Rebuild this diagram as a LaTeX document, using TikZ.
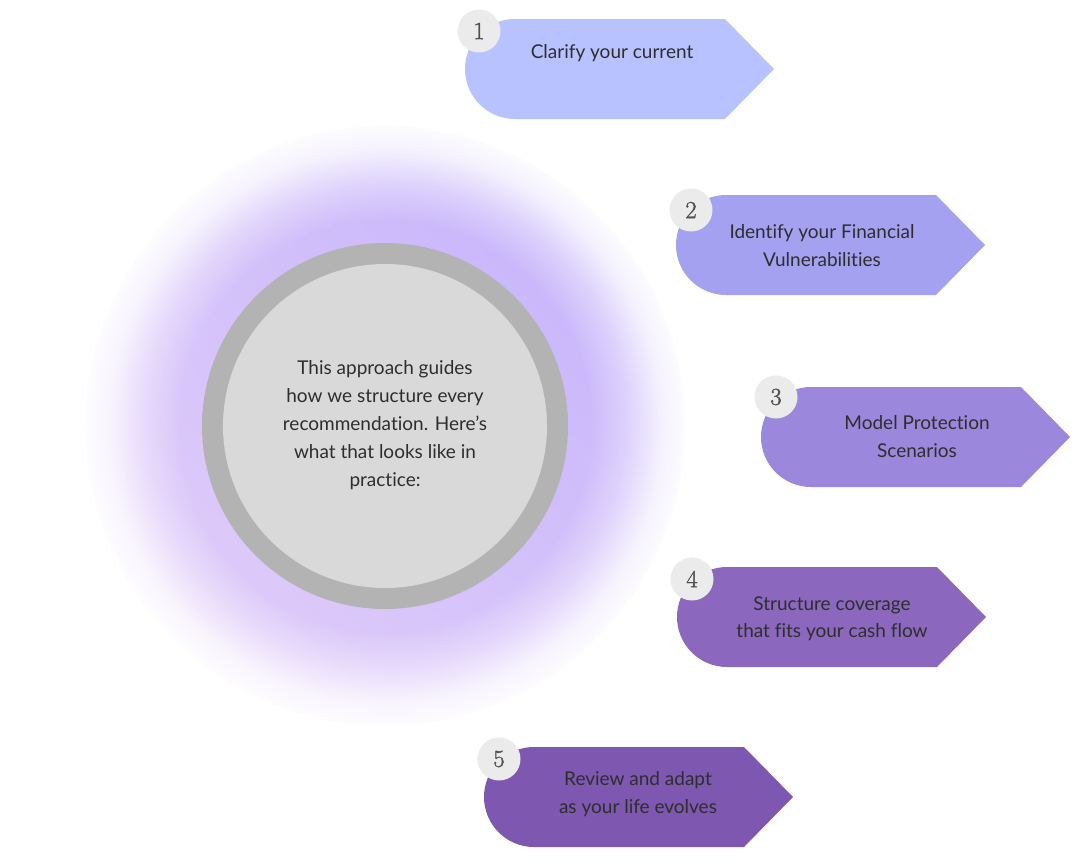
\documentclass[tikz,border=0pt]{standalone}
\usepackage{fontspec}
\setmainfont{Lato}[Ligatures=NoCommon]
\newfontfamily\numfont{Latin Modern Roman}[BoldFont={Latin Modern Roman}, BoldFeatures={FakeBold=1.4}]
\usetikzlibrary{fadings,shadings}
\definecolor{cA}{HTML}{B8C2FF}
\definecolor{cB}{HTML}{A3A1F0}
\definecolor{cC}{HTML}{9B87DB}
\definecolor{cD}{HTML}{8B68BE}
\definecolor{cE}{HTML}{7D57B0}
\definecolor{ringc}{HTML}{B3B3B3}
\definecolor{innerc}{HTML}{D9D9D9}
\definecolor{badgec}{HTML}{EBEBEB}
\definecolor{numc}{HTML}{505050}
\definecolor{txtc}{HTML}{2E2E2E}
\definecolor{glowA}{HTML}{BFAEFC}
\definecolor{glowB}{HTML}{E6D0F8}
\definecolor{glowC}{HTML}{D4C2FA}
\pgfdeclareradialshading{glowfadeshade}{\pgfpointorigin}{%
  color(0bp)=(pgftransparent!0); color(17bp)=(pgftransparent!0); color(20bp)=(pgftransparent!35);
  color(23bp)=(pgftransparent!82); color(25.5bp)=(pgftransparent!100); color(50bp)=(pgftransparent!100)}
\pgfdeclarefading{glowfade}{\pgfuseshading{glowfadeshade}}
\newcommand\stepblock[3]{%
  \fill[#3] ({#1+50},{#2}) -- ({#1+260},{#2}) -- ({#1+309},{#2+50})
    -- ({#1+260},{#2+100}) -- ({#1+50},{#2+100})
    arc[start angle=90, end angle=270, radius=50] -- cycle;}
\tikzset{
  steptext/.style={align=center, text=txtc, font=\fontsize{19}{27.5}\selectfont, inner sep=0pt},
  badge/.style={circle, fill=badgec, minimum size=43pt, inner sep=0pt, text=numc, font=\numfont\bfseries\fontsize{24.5}{24.5}\selectfont},
  centertext/.style={align=center, text=txtc, font=\fontsize{19}{28}\selectfont, inner sep=0pt}
}
\begin{document}
\begin{tikzpicture}[x=1pt, y=-1pt]
\useasboundingbox (0,0) rectangle (1079,862);
\fill[white] (0,0) rectangle (1079,862);
% glow
\shade[path fading=glowfade, upper right=glowA, lower left=glowB, upper left=glowC, lower right=glowC] (385,426) circle (300);
% central disc
\fill[ringc] (385,426) circle (183);
\node[circle, fill=innerc, minimum size=324pt, inner sep=0pt] (core) at (385,426) {};
\node[centertext] (coretext) at (385,425) {This approach guides\\how we structure every\\recommendation. Here’s\\what that looks like in\\practice:};
% steps
\stepblock{465}{19}{cA}
\stepblock{676}{195}{cB}
\stepblock{761}{387}{cC}
\stepblock{677}{567}{cD}
\stepblock{484}{747}{cE}
\node[steptext] (t1) at (612,53) {Clarify your current};
\node[steptext] (t2) at (822,245.5) {Identify your Financial\\Vulnerabilities};
\node[steptext] (t3) at (917,436.5) {Model Protection\\Scenarios};
\node[steptext] (t4) at (832,618.5) {Structure coverage\\that fits your cash flow};
\node[steptext] (t5) at (638,794) {Review and adapt\\as your life evolves};
\node[badge] (b1) at (479,31) {1};
\node[badge] (b2) at (691,210) {2};
\node[badge] (b3) at (776,397) {3};
\node[badge] (b4) at (692,579) {4};
\node[badge] (b5) at (499,759) {5};
\end{tikzpicture}
\end{document}
